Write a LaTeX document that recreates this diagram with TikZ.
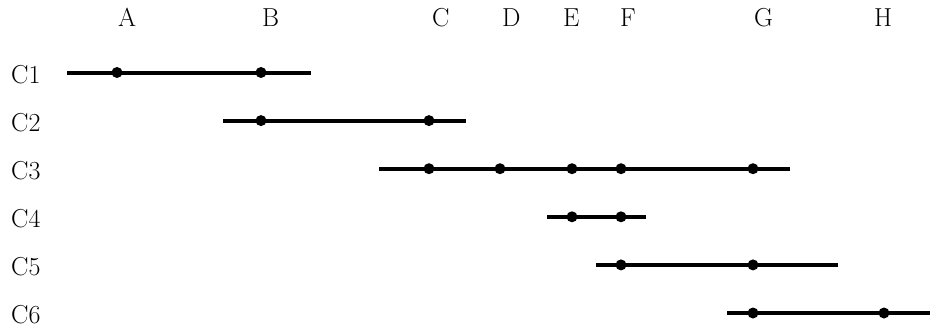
\documentclass[tikz,border=0pt]{standalone}
\begin{document}
\begin{tikzpicture}[x=1pt,y=-1pt,
  lbl/.style={anchor=base west,inner sep=0pt,font=\fontsize{26}{30}\selectfont},
  dotnode/.style={circle,fill=black,inner sep=0pt,minimum size=11pt},
  seg/.style={line width=4pt}]
\useasboundingbox (0,0) rectangle (930,333);
% column labels
\foreach \n/\x in {A/118,B/262,C/432,D/502,E/563,F/620,G/754,H/874}
  \node[lbl] (lab\n) at (\x,26) {\n};
% row labels
\foreach \i/\y in {1/72.5,2/120.6,3/168.7,4/216.8,5/264.9,6/313}
  \node[lbl] (labC\i) at (11,\y+10.5) {C\i};
% segment ends
\coordinate (s1) at (67,72.5);   \coordinate (e1) at (311,72.5);
\coordinate (s2) at (223,120.6); \coordinate (e2) at (466,120.6);
\coordinate (s3) at (379,168.7); \coordinate (e3) at (790,168.7);
\coordinate (s4) at (547,216.8); \coordinate (e4) at (646,216.8);
\coordinate (s5) at (596,264.9); \coordinate (e5) at (838,264.9);
\coordinate (s6) at (727,313);   \coordinate (e6) at (930,313);
\foreach \i in {1,...,6} \draw[seg] (s\i) -- (e\i);
% dots
\node[dotnode] (d1a) at (117,72.5) {};
\node[dotnode] (d1b) at (261,72.5) {};
\node[dotnode] (d2b) at (261,120.6) {};
\node[dotnode] (d2c) at (429,120.6) {};
\node[dotnode] (d3c) at (429,168.7) {};
\node[dotnode] (d3d) at (500,168.7) {};
\node[dotnode] (d3e) at (572,168.7) {};
\node[dotnode] (d3f) at (621,168.7) {};
\node[dotnode] (d3g) at (753,168.7) {};
\node[dotnode] (d4e) at (572,216.8) {};
\node[dotnode] (d4f) at (621,216.8) {};
\node[dotnode] (d5f) at (621,264.9) {};
\node[dotnode] (d5g) at (753,264.9) {};
\node[dotnode] (d6g) at (753,313) {};
\node[dotnode] (d6h) at (884,313) {};
\end{tikzpicture}
\end{document}
